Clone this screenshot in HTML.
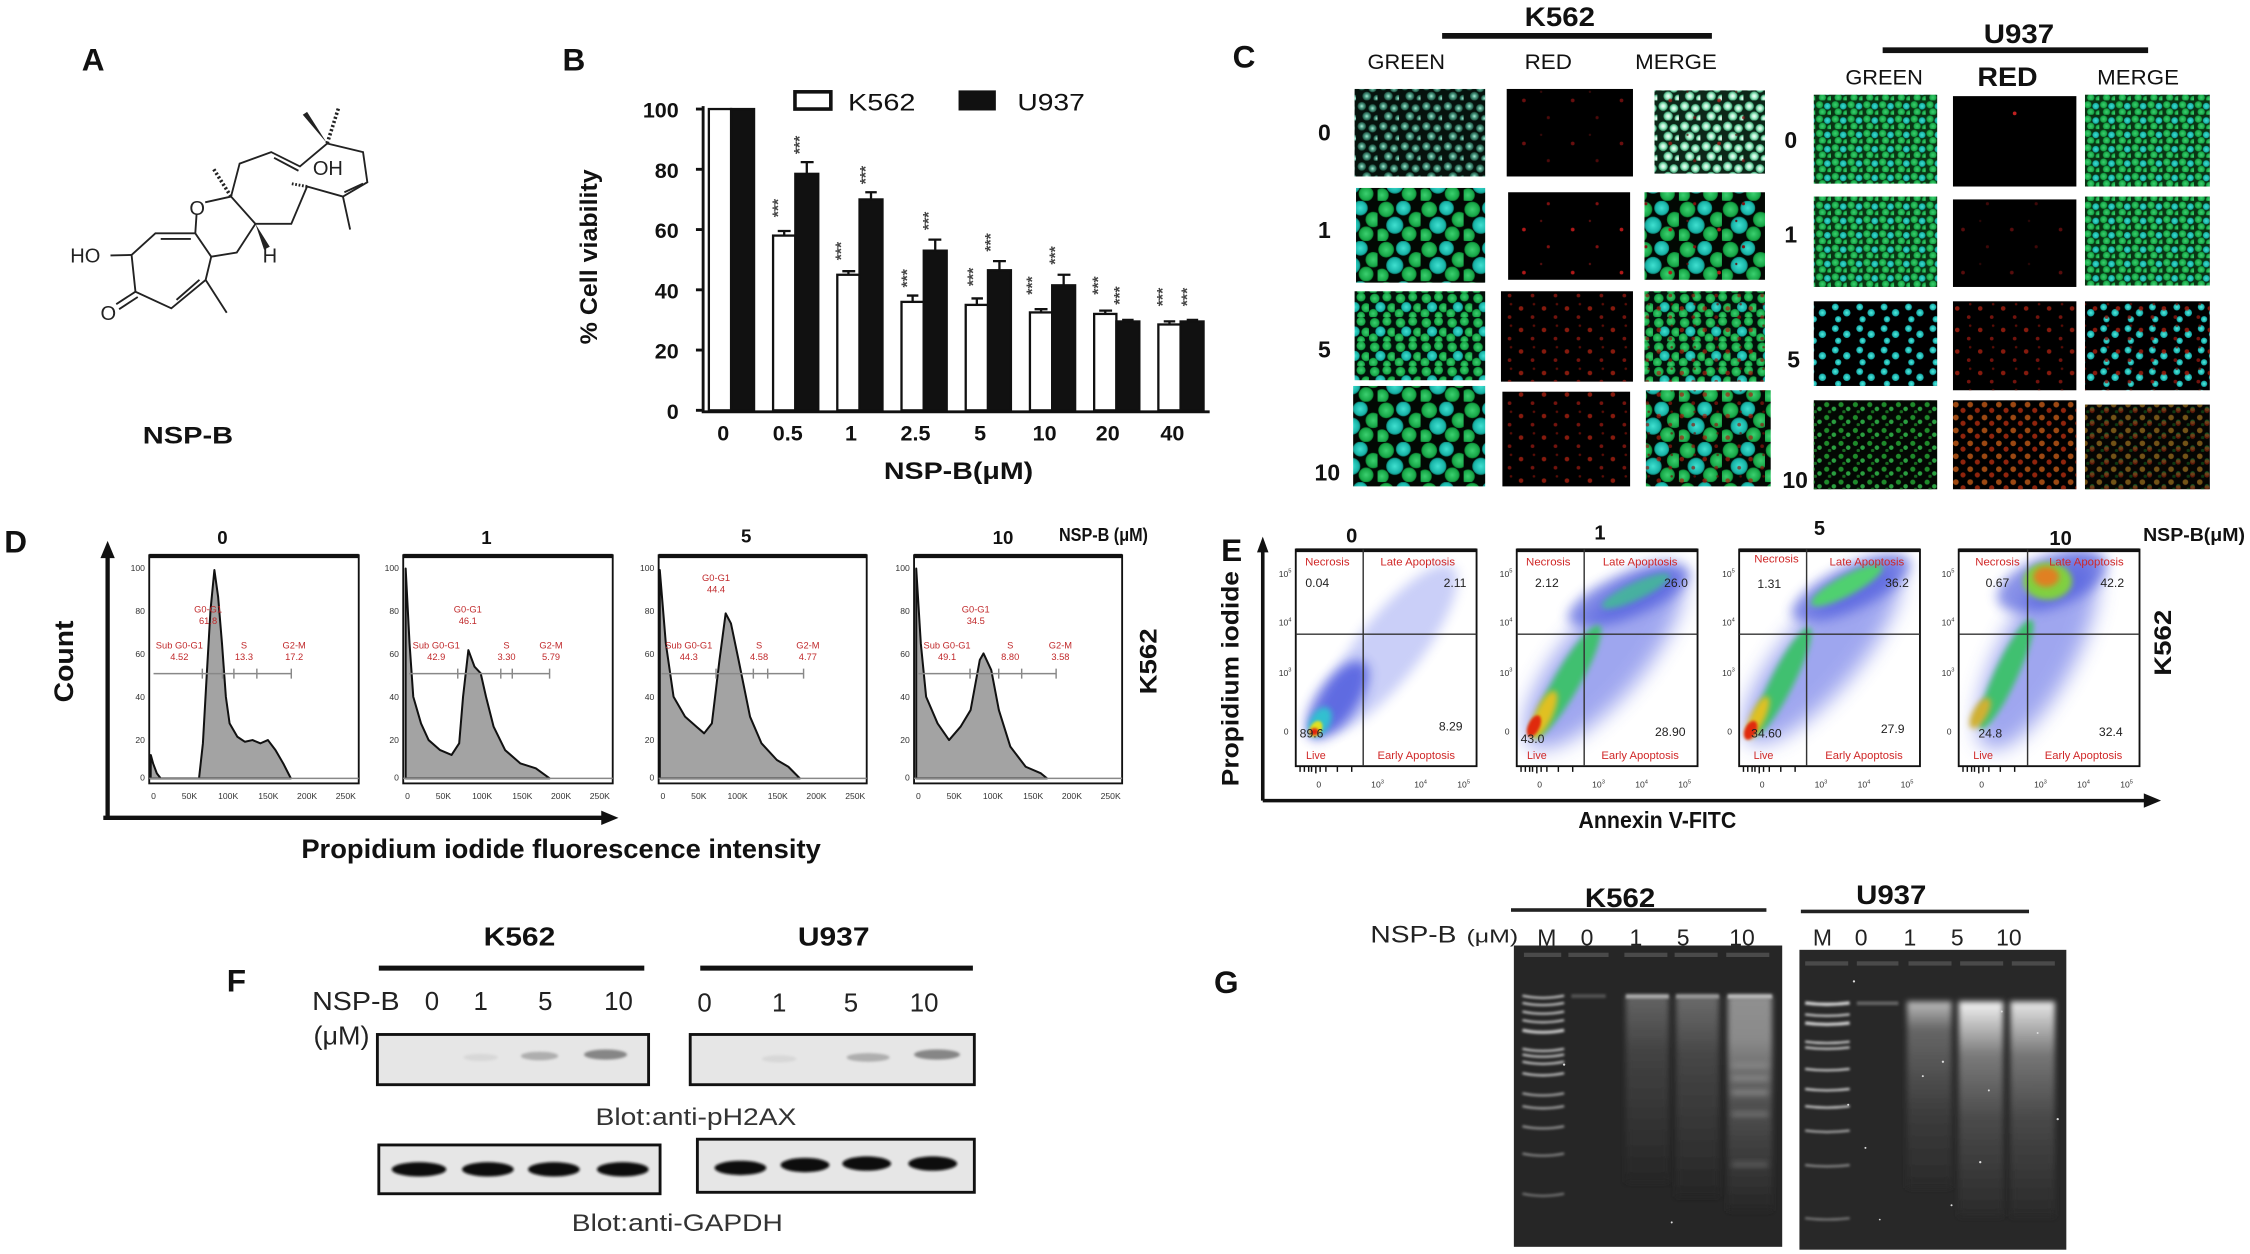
<!DOCTYPE html>
<html><head><meta charset="utf-8">
<style>
html,body{margin:0;padding:0;background:#fff}
svg{display:block}
text{font-family:"Liberation Sans",Arial,sans-serif}
</style></head>
<body>
<svg width="2250" height="1254" viewBox="0 0 1568 874" preserveAspectRatio="none" xmlns="http://www.w3.org/2000/svg">
<defs>
<radialGradient id="gTeal"><stop offset="0" stop-color="#b0eed8"/><stop offset=".45" stop-color="#50a088"/><stop offset="1" stop-color="#184a3a"/></radialGradient>
<radialGradient id="gWG"><stop offset="0" stop-color="#ffffff"/><stop offset=".5" stop-color="#a8f0cc"/><stop offset="1" stop-color="#309868"/></radialGradient>
<radialGradient id="gGreen"><stop offset="0" stop-color="#3cd070"/><stop offset=".8" stop-color="#18a848"/><stop offset="1" stop-color="#0c7a30"/></radialGradient>
<radialGradient id="gCyan"><stop offset="0" stop-color="#40e0d0"/><stop offset=".8" stop-color="#18b4a8"/><stop offset="1" stop-color="#0c8070"/></radialGradient>
<radialGradient id="gCy2"><stop offset="0" stop-color="#50f0e0"/><stop offset="1" stop-color="#10a0a0"/></radialGradient>
<filter id="b1" x="-50%" y="-50%" width="200%" height="200%"><feGaussianBlur stdDeviation="1"/></filter>
<filter id="b2" x="-50%" y="-50%" width="200%" height="200%"><feGaussianBlur stdDeviation="2"/></filter>
<filter id="b4" x="-50%" y="-50%" width="200%" height="200%"><feGaussianBlur stdDeviation="4"/></filter>
<filter id="b7" x="-50%" y="-50%" width="200%" height="200%"><feGaussianBlur stdDeviation="7"/></filter>

<pattern id="pK0G" width="15" height="14" patternUnits="userSpaceOnUse">
<rect width="15" height="14" fill="#06120d"/>
<circle cx="4" cy="4" r="3" fill="url(#gTeal)"/><circle cx="11.5" cy="5.5" r="2.9" fill="url(#gTeal)"/>
<circle cx="7.5" cy="11" r="3.1" fill="url(#gTeal)"/><circle cx="14.5" cy="12.5" r="2.4" fill="url(#gTeal)"/>
</pattern>
<pattern id="pK0M" width="15" height="14" patternUnits="userSpaceOnUse">
<rect width="15" height="14" fill="#0c2618"/>
<circle cx="4" cy="4" r="3.3" fill="url(#gWG)"/><circle cx="11.5" cy="5.5" r="3.1" fill="url(#gWG)"/>
<circle cx="7.5" cy="11" r="3.3" fill="url(#gWG)"/><circle cx="14.5" cy="12.5" r="2.6" fill="url(#gWG)"/>
</pattern>
<pattern id="pKbig" width="30" height="28" patternUnits="userSpaceOnUse">
<rect width="30" height="28" fill="#020803"/>
<circle cx="6" cy="6" r="5.5" fill="url(#gGreen)"/><circle cx="18" cy="5" r="5.2" fill="url(#gCyan)"/>
<circle cx="27" cy="13" r="5.4" fill="url(#gGreen)"/><circle cx="12" cy="17" r="6" fill="url(#gCyan)"/>
<circle cx="22" cy="23" r="5.2" fill="url(#gGreen)"/><circle cx="3" cy="24" r="4.8" fill="url(#gGreen)"/>
</pattern>
<pattern id="pKmed" width="18" height="17" patternUnits="userSpaceOnUse">
<rect width="18" height="17" fill="#02100a"/>
<circle cx="4" cy="4" r="3.4" fill="url(#gGreen)"/><circle cx="12.5" cy="3" r="3.2" fill="url(#gGreen)"/>
<circle cx="8" cy="10" r="3.6" fill="url(#gCyan)"/><circle cx="16" cy="10.5" r="3.3" fill="url(#gGreen)"/>
<circle cx="3" cy="14.5" r="3.2" fill="url(#gGreen)"/><circle cx="12.5" cy="16" r="2.8" fill="url(#gGreen)"/>
</pattern>
<pattern id="pUg" width="11" height="10" patternUnits="userSpaceOnUse">
<rect width="11" height="10" fill="#0a3414"/>
<circle cx="3" cy="3" r="2.6" fill="url(#gGreen)"/><circle cx="8.5" cy="4" r="2.4" fill="url(#gCyan)"/>
<circle cx="5" cy="8" r="2.6" fill="url(#gGreen)"/><circle cx="10.5" cy="9" r="2.2" fill="url(#gGreen)"/>
</pattern>
<pattern id="pUc" width="17" height="15" patternUnits="userSpaceOnUse">
<rect width="17" height="15" fill="#000"/>
<circle cx="4" cy="4" r="2.4" fill="url(#gCy2)"/><circle cx="12" cy="8" r="2.6" fill="url(#gCy2)"/>
<circle cx="6" cy="12.5" r="2.2" fill="url(#gCy2)"/>
</pattern>
<pattern id="pUg10" width="10" height="9" patternUnits="userSpaceOnUse">
<circle cx="3" cy="3" r="1.8" fill="#1e8a2a"/><circle cx="8" cy="6" r="1.6" fill="#2aa040"/>
<circle cx="5" cy="8" r="1.2" fill="#176a20"/>
</pattern>
<pattern id="pRs" width="34" height="30" patternUnits="userSpaceOnUse">
<circle cx="8" cy="10" r="1.3" fill="#b01818"/><circle cx="25" cy="22" r="1.1" fill="#801010"/>
<circle cx="20" cy="4" r="0.8" fill="#601010"/>
</pattern>
<pattern id="pRm" width="16" height="15" patternUnits="userSpaceOnUse">
<circle cx="4" cy="5" r="1.6" fill="#a82010"/><circle cx="12" cy="11" r="1.3" fill="#901810"/>
<circle cx="13" cy="2" r="0.9" fill="#701008"/>
</pattern>
<pattern id="pRo" width="10" height="9" patternUnits="userSpaceOnUse">
<circle cx="3" cy="3" r="2" fill="#d06018"/><circle cx="8" cy="7" r="1.8" fill="#c03010"/>
</pattern>
<linearGradient id="sm1" x1="0" y1="0" x2="0" y2="1"><stop offset="0" stop-color="#707070"/><stop offset=".3" stop-color="#484848"/><stop offset="1" stop-color="#262626"/></linearGradient>
<linearGradient id="sm10" x1="0" y1="0" x2="0" y2="1"><stop offset="0" stop-color="#909090"/><stop offset=".2" stop-color="#8a8a8a"/><stop offset=".5" stop-color="#505050"/><stop offset="1" stop-color="#262626"/></linearGradient>
<linearGradient id="sm2" x1="0" y1="0" x2="0" y2="1"><stop offset="0" stop-color="#f4f4f4"/><stop offset=".07" stop-color="#d0d0d0"/><stop offset=".25" stop-color="#7a7a7a"/><stop offset=".55" stop-color="#4a4a4a"/><stop offset="1" stop-color="#2a2a2a"/></linearGradient>
<linearGradient id="sm3" x1="0" y1="0" x2="0" y2="1"><stop offset="0" stop-color="#bbbbbb"/><stop offset=".15" stop-color="#666"/><stop offset=".6" stop-color="#3c3c3c"/><stop offset="1" stop-color="#2a2a2a"/></linearGradient>
<clipPath id="cE1"><rect x="903" y="383" width="126" height="151"/></clipPath>
<clipPath id="cE2"><rect x="1057" y="383" width="126" height="151"/></clipPath>
<clipPath id="cE3"><rect x="1212" y="383" width="126" height="151"/></clipPath>
<clipPath id="cE4"><rect x="1365" y="383" width="126" height="151"/></clipPath>
<clipPath id="cG1"><rect x="1055" y="659" width="187" height="210"/></clipPath>
<clipPath id="cG2"><rect x="1254" y="662" width="186" height="209"/></clipPath>
</defs>

<!-- Panel letters -->
<g font-weight="bold" font-size="22" fill="#111">
<text x="57" y="49">A</text><text x="392" y="49">B</text><text x="859" y="47">C</text>
<text x="3" y="385">D</text><text x="851" y="391">E</text><text x="158" y="691">F</text><text x="846" y="692">G</text>
</g>

<!-- Panel A structure -->
<g stroke="#222" stroke-width="1.3" fill="none">
<path d="M91.7,177.7 L108.3,162.6 L136.1,162.6 L147.2,178.9 L143.3,195.1 L119.4,214.9 L94.4,203.3 Z"/>
<path d="M112,166.5 L133,166.5 M123,209 L139,195"/>
<path d="M94.4,203.3 L81,212 M96,207 L83,215.5"/>
<path d="M91.7,177.7 L77,178"/>
<path d="M143.3,195.1 L158,218"/>
<path d="M136.1,162.6 L137,149 M143,141 L161,137 L178,156 M147.2,178.9 L165,176 L178,156"/>
<path d="M161,137 L167,114 L189,106 L209,116 L228,100 L253,106 L256,127 L239,137 L244,160 M239,137 L214,130 L203,156 L178,156"/>
<path d="M191,110 L208,119 M253,128 L240,134"/>
<path d="M161,137 L149,118" stroke-dasharray="1.5 1.5" stroke-width="2.5"/>
<path d="M228,100 L236,75" stroke-dasharray="1.5 1.5" stroke-width="2.5"/>
<path d="M214,130 L203,128" stroke-dasharray="1.2 1.2" stroke-width="2"/>
</g>
<polygon points="228,100 211,80 214,78" fill="#222"/>
<polygon points="178,156 184,174 188,172" fill="#222"/>
<g font-size="14" fill="#222">
<text x="49" y="183">HO</text><text x="70" y="223">O</text><text x="132" y="150">O</text>
<text x="183" y="183">H</text><text x="218" y="122">OH</text>
</g>
<text x="131" y="309" font-size="17" font-weight="bold" text-anchor="middle" fill="#111" textLength="63" lengthAdjust="spacingAndGlyphs">NSP-B</text>

<!-- Panel B bar chart -->
<g stroke="#111" stroke-width="2" fill="none">
<path d="M490,74 L490,287 L843,287"/>
<path d="M485,76 L490,76 M485,118 L490,118 M485,160 L490,160 M485,202 L490,202 M485,244 L490,244 M485,286 L490,286"/>
</g>
<g font-size="15" font-weight="bold" text-anchor="end" fill="#111">
<text x="473" y="82">100</text><text x="473" y="124">80</text><text x="473" y="166">60</text><text x="473" y="208">40</text><text x="473" y="250">20</text><text x="473" y="292">0</text>
</g>
<g stroke="#111" stroke-width="1.6">
<rect x="494" y="76" width="15.5" height="210" fill="#fff"/><rect x="509.5" y="76" width="16" height="210" fill="#111"/>
<rect x="538.75" y="164.2" width="15.5" height="121.8" fill="#fff"/><rect x="554.25" y="121.15" width="16" height="164.85" fill="#111"/>
<rect x="583.5" y="191.5" width="15.5" height="94.5" fill="#fff"/><rect x="599" y="139" width="16" height="147" fill="#111"/>
<rect x="628.25" y="210.4" width="15.5" height="75.6" fill="#fff"/><rect x="643.75" y="174.7" width="16" height="111.3" fill="#111"/>
<rect x="673" y="212.5" width="15.5" height="73.5" fill="#fff"/><rect x="688.5" y="188.35" width="16" height="97.65" fill="#111"/>
<rect x="717.75" y="217.75" width="15.5" height="68.25" fill="#fff"/><rect x="733.25" y="198.85" width="16" height="87.15" fill="#111"/>
<rect x="762.5" y="218.8" width="15.5" height="67.2" fill="#fff"/><rect x="778" y="224.05" width="16" height="61.95" fill="#111"/>
<rect x="807.25" y="226.15" width="15.5" height="59.85" fill="#fff"/><rect x="822.75" y="224.05" width="16" height="61.95" fill="#111"/>
</g>
<g stroke="#111" stroke-width="1.6">
<path d="M546.5,164 V161 M542,161 H551"/>
<path d="M562.25,121 V113 M558,113 H567"/>
<path d="M591.25,191 V189 M587,189 H596"/>
<path d="M607,139 V134 M603,134 H611"/>
<path d="M636,210 V206 M632,206 H640"/>
<path d="M651.75,174 V167 M647,167 H656"/>
<path d="M680.75,212 V208 M677,208 H685"/>
<path d="M696.5,188 V182 M692,182 H701"/>
<path d="M725.5,217.5 V215.5 M721,215.5 H730"/>
<path d="M741.25,198.8 V191.5 M737,191.5 H746"/>
<path d="M770.25,218.8 V216.5 M766,216.5 H775"/>
<path d="M786,224 V223 M782,223 H790"/>
<path d="M815,226 V224 M811,224 H819"/>
<path d="M830.75,224 V223 M827,223 H835"/>
</g>
<g font-size="11" fill="#444" text-anchor="middle" font-weight="bold">
<text transform="translate(546,145) rotate(-90)">***</text>
<text transform="translate(561,101) rotate(-90)">***</text>
<text transform="translate(590,175) rotate(-90)">***</text>
<text transform="translate(607,122) rotate(-90)">***</text>
<text transform="translate(636,194) rotate(-90)">***</text>
<text transform="translate(651,154) rotate(-90)">***</text>
<text transform="translate(682,193) rotate(-90)">***</text>
<text transform="translate(694,169) rotate(-90)">***</text>
<text transform="translate(723,199) rotate(-90)">***</text>
<text transform="translate(739,178) rotate(-90)">***</text>
<text transform="translate(769,199) rotate(-90)">***</text>
<text transform="translate(784,206) rotate(-90)">***</text>
<text transform="translate(814,207) rotate(-90)">***</text>
<text transform="translate(831,207) rotate(-90)">***</text>
</g>
<g font-size="15" font-weight="bold" text-anchor="middle" fill="#111">
<text x="504" y="307">0</text><text x="549" y="307">0.5</text><text x="593" y="307">1</text><text x="638" y="307">2.5</text>
<text x="683" y="307">5</text><text x="728" y="307">10</text><text x="772" y="307">20</text><text x="817" y="307">40</text>
</g>
<text x="668" y="334" font-size="17" font-weight="bold" text-anchor="middle" fill="#111" textLength="104" lengthAdjust="spacingAndGlyphs">NSP-B(μM)</text>
<text transform="translate(416,179) rotate(-90)" font-size="17" font-weight="bold" text-anchor="middle" fill="#111" textLength="122" lengthAdjust="spacingAndGlyphs">% Cell viability</text>
<rect x="554" y="64" width="25" height="12" fill="#fff" stroke="#111" stroke-width="2.5"/>
<text x="591" y="77" font-size="17" fill="#111" textLength="47" lengthAdjust="spacingAndGlyphs">K562</text>
<rect x="668" y="63" width="26" height="14" fill="#111"/>
<text x="709" y="77" font-size="17" fill="#111" textLength="47" lengthAdjust="spacingAndGlyphs">U937</text>

<!-- Panel C -->
<text x="1087" y="18" font-size="19" font-weight="bold" text-anchor="middle" fill="#111" textLength="49" lengthAdjust="spacingAndGlyphs">K562</text>
<rect x="1005" y="23" width="188" height="4" fill="#111"/>
<text x="1407" y="30" font-size="19" font-weight="bold" text-anchor="middle" fill="#111" textLength="49" lengthAdjust="spacingAndGlyphs">U937</text>
<rect x="1312" y="33" width="185" height="4" fill="#111"/>
<g font-size="15" fill="#111" text-anchor="middle">
<text x="980" y="48" textLength="54" lengthAdjust="spacingAndGlyphs">GREEN</text>
<text x="1079" y="48" textLength="33" lengthAdjust="spacingAndGlyphs">RED</text>
<text x="1168" y="48" textLength="57" lengthAdjust="spacingAndGlyphs">MERGE</text>
<text x="1313" y="59" textLength="54" lengthAdjust="spacingAndGlyphs">GREEN</text>
<text x="1399" y="60" font-size="19" font-weight="bold" textLength="42" lengthAdjust="spacingAndGlyphs">RED</text>
<text x="1490" y="59" textLength="57" lengthAdjust="spacingAndGlyphs">MERGE</text>
</g>
<g font-size="16" font-weight="bold" fill="#111" text-anchor="middle">
<text x="923" y="98">0</text><text x="923" y="166">1</text><text x="923" y="249">5</text><text x="925" y="335">10</text>
<text x="1248" y="103">0</text><text x="1248" y="169">1</text><text x="1250" y="256">5</text><text x="1251" y="340">10</text>
</g>
<!-- K562 images -->
<rect x="944" y="62" width="91" height="61" fill="url(#pK0G)"/>
<rect x="1050" y="62" width="88" height="61" fill="#000"/><rect x="1050" y="62" width="88" height="61" fill="url(#pRs)" opacity=".6"/>
<rect x="1153" y="63" width="77" height="58" fill="url(#pK0M)"/><rect x="1153" y="63" width="77" height="58" fill="url(#pRs)" opacity=".7"/>
<rect x="945" y="131" width="90" height="66" fill="url(#pKbig)"/>
<rect x="1051" y="134" width="85" height="61" fill="#000"/><rect x="1051" y="134" width="85" height="61" fill="url(#pRs)"/>
<rect x="1146" y="134" width="84" height="61" fill="url(#pKbig)"/><rect x="1146" y="134" width="84" height="61" fill="url(#pRs)"/>
<rect x="944" y="203" width="91" height="62" fill="url(#pKmed)"/>
<rect x="1046" y="203" width="92" height="63" fill="#000"/><rect x="1046" y="203" width="92" height="63" fill="url(#pRm)" opacity=".8"/>
<rect x="1146" y="203" width="84" height="63" fill="url(#pKmed)"/><rect x="1146" y="203" width="84" height="63" fill="url(#pRm)" opacity=".7"/>
<rect x="943" y="269" width="92" height="70" fill="url(#pKbig)"/>
<rect x="1047" y="273" width="89" height="66" fill="#000"/><rect x="1047" y="273" width="89" height="66" fill="url(#pRm)" opacity=".8"/>
<rect x="1147" y="272" width="87" height="67" fill="url(#pKbig)"/><rect x="1147" y="272" width="87" height="67" fill="url(#pRm)" opacity=".7"/>
<!-- U937 images -->
<rect x="1264" y="66" width="86" height="62" fill="url(#pUg)"/>
<rect x="1361" y="67" width="86" height="63" fill="#000"/><circle cx="1404" cy="79" r="1.3" fill="#c02020"/>
<rect x="1453" y="66" width="87" height="64" fill="url(#pUg)"/>
<rect x="1264" y="137" width="86" height="63" fill="url(#pUg)"/>
<rect x="1361" y="139" width="86" height="61" fill="#000"/><rect x="1361" y="139" width="86" height="61" fill="url(#pRs)" opacity=".5"/>
<rect x="1453" y="137" width="87" height="62" fill="url(#pUg)"/>
<rect x="1264" y="210" width="86" height="59" fill="url(#pUc)"/>
<rect x="1361" y="210" width="86" height="62" fill="#000"/><rect x="1361" y="210" width="86" height="62" fill="url(#pRm)" opacity=".8"/>
<rect x="1453" y="210" width="87" height="62" fill="url(#pUc)"/><rect x="1453" y="210" width="87" height="62" fill="url(#pRm)" opacity=".8"/>
<rect x="1264" y="279" width="86" height="62" fill="#030803"/><rect x="1264" y="279" width="86" height="62" fill="url(#pUg10)"/>
<rect x="1361" y="279" width="86" height="62" fill="#000"/><rect x="1361" y="279" width="86" height="62" fill="url(#pRo)" opacity=".75"/>
<rect x="1453" y="282" width="87" height="59" fill="#050503"/><rect x="1453" y="282" width="87" height="59" fill="url(#pUg10)" opacity=".5"/><rect x="1453" y="282" width="87" height="59" fill="url(#pRo)" opacity=".5"/>

<!-- Panel D -->
<g stroke="#111" stroke-width="3" fill="none"><path d="M75,570 V386 M72,570 H422"/></g>
<polygon points="75,377 70,389 80,389" fill="#111"/>
<polygon points="431,570 419,565 419,575" fill="#111"/>
<text transform="translate(51,461) rotate(-90)" font-size="19" font-weight="bold" text-anchor="middle" fill="#111" textLength="57" lengthAdjust="spacingAndGlyphs">Count</text>
<text x="391" y="598" font-size="19" font-weight="bold" text-anchor="middle" fill="#111" textLength="362" lengthAdjust="spacingAndGlyphs">Propidium iodide fluorescence intensity</text>
<text transform="translate(806,461) rotate(-90)" font-size="17" font-weight="bold" text-anchor="middle" fill="#111" textLength="46" lengthAdjust="spacingAndGlyphs">K562</text>
<g font-size="13" font-weight="bold" text-anchor="middle" fill="#111">
<text x="155" y="379">0</text><text x="339" y="379">1</text><text x="520" y="378">5</text><text x="699" y="379">10</text>
<text x="769" y="377" textLength="62" lengthAdjust="spacingAndGlyphs">NSP-B (μM)</text>
</g>
<g fill="none" stroke="#111" stroke-width="1.3">
<rect x="104" y="387" width="146" height="159"/><rect x="281" y="387" width="146" height="159"/>
<rect x="459" y="387" width="145" height="159"/><rect x="637" y="387" width="145" height="159"/>
</g>
<g stroke="#111" stroke-width="3"><path d="M104,387.5 H250 M281,387.5 H427 M459,387.5 H604 M637,387.5 H782"/></g>
<g fill="#a3a3a3" stroke="#111" stroke-width="1.4" stroke-linejoin="round">
<path d="M105.1,526.2 L106.7,532.1 L109.3,539 L112,542.5 L138.7,542.5 L141.4,518.1 L144,471.7 L146.7,425.2 L149.4,397.3 L152,415.9 L154.7,448.4 L157.4,485.6 L160,504.2 L165.4,513.5 L170.7,517 L176,515.8 L181.4,518.1 L186.7,515.8 L192,522.8 L197.4,532.1 L202.7,542.5 L105,542.5 Z"/>
<path d="M282.7,396.2 L285.4,448.4 L288,485.6 L293.4,504.2 L298.7,515.8 L306.7,522.8 L314.7,526.2 L320,518.1 L322.7,485.6 L326.4,453.1 L330.7,464.7 L335,469.3 L338.7,485.6 L344,506.5 L352,522.8 L362.7,532.1 L373.4,535.5 L383,542.5 L282.7,542.5 Z"/>
<path d="M459.8,397.3 L464,448.4 L469.4,485.6 L477.4,499.5 L485.4,506.5 L490.7,511.1 L496.1,504.2 L501.4,460 L505.7,427.5 L509.4,434.5 L514.7,460 L522.7,499.5 L530.7,518.1 L541.4,529.7 L549.4,534.4 L557.4,542.5 L459.8,542.5 Z"/>
<path d="M638.5,396.2 L641.7,448.4 L645.4,485.6 L653.4,504.2 L661.4,515.8 L669.4,506.5 L676.4,494.9 L682.8,460 L685.4,455.4 L690.8,467 L696.1,494.9 L704.1,520.4 L714.8,534.4 L725.4,539 L729.7,542.5 L638.5,542.5 Z"/>
</g>
<g stroke="#888" stroke-width="1" fill="none">
<path d="M104,542.5 H250 M281,542.5 H427 M459,542.5 H604 M637,542.5 H782"/>
<path d="M107,469.5 H203 M141,466 V473 M155,466 V473 M163,466 V473 M179,466 V473 M203,466 V473"/>
<path d="M285,469.5 H383 M319,466 V473 M349,466 V473 M357,466 V473 M383,466 V473"/>
<path d="M461,469.5 H560 M499,466 V473 M525,466 V473 M535,466 V473 M560,466 V473"/>
<path d="M640,469.5 H736 M676,466 V473 M696,466 V473 M712,466 V473 M736,466 V473"/>
</g>
<g font-size="6" fill="#333" text-anchor="end">
<text x="101" y="398">100</text><text x="101" y="428">80</text><text x="101" y="458">60</text><text x="101" y="488">40</text><text x="101" y="518">20</text><text x="101" y="544">0</text>
<text x="278" y="398">100</text><text x="278" y="428">80</text><text x="278" y="458">60</text><text x="278" y="488">40</text><text x="278" y="518">20</text><text x="278" y="544">0</text>
<text x="456" y="398">100</text><text x="456" y="428">80</text><text x="456" y="458">60</text><text x="456" y="488">40</text><text x="456" y="518">20</text><text x="456" y="544">0</text>
<text x="634" y="398">100</text><text x="634" y="428">80</text><text x="634" y="458">60</text><text x="634" y="488">40</text><text x="634" y="518">20</text><text x="634" y="544">0</text>
</g>
<g font-size="6" fill="#333" text-anchor="middle">
<text x="107" y="557">0</text><text x="132" y="557">50K</text><text x="159" y="557">100K</text><text x="187" y="557">150K</text><text x="214" y="557">200K</text><text x="241" y="557">250K</text>
<text x="284" y="557">0</text><text x="309" y="557">50K</text><text x="336" y="557">100K</text><text x="364" y="557">150K</text><text x="391" y="557">200K</text><text x="418" y="557">250K</text>
<text x="462" y="557">0</text><text x="487" y="557">50K</text><text x="514" y="557">100K</text><text x="542" y="557">150K</text><text x="569" y="557">200K</text><text x="596" y="557">250K</text>
<text x="640" y="557">0</text><text x="665" y="557">50K</text><text x="692" y="557">100K</text><text x="720" y="557">150K</text><text x="747" y="557">200K</text><text x="774" y="557">250K</text>
</g>
<g font-size="6.5" fill="#c0282a" text-anchor="middle">
<text x="145" y="427">G0-G1</text><text x="145" y="435">61.8</text>
<text x="125" y="452">Sub G0-G1</text><text x="125" y="460">4.52</text>
<text x="170" y="452">S</text><text x="170" y="460">13.3</text>
<text x="205" y="452">G2-M</text><text x="205" y="460">17.2</text>
<text x="326" y="427">G0-G1</text><text x="326" y="435">46.1</text>
<text x="304" y="452">Sub G0-G1</text><text x="304" y="460">42.9</text>
<text x="353" y="452">S</text><text x="353" y="460">3.30</text>
<text x="384" y="452">G2-M</text><text x="384" y="460">5.79</text>
<text x="499" y="405">G0-G1</text><text x="499" y="413">44.4</text>
<text x="480" y="452">Sub G0-G1</text><text x="480" y="460">44.3</text>
<text x="529" y="452">S</text><text x="529" y="460">4.58</text>
<text x="563" y="452">G2-M</text><text x="563" y="460">4.77</text>
<text x="680" y="427">G0-G1</text><text x="680" y="435">34.5</text>
<text x="660" y="452">Sub G0-G1</text><text x="660" y="460">49.1</text>
<text x="704" y="452">S</text><text x="704" y="460">8.80</text>
<text x="739" y="452">G2-M</text><text x="739" y="460">3.58</text>
</g>

<!-- Panel E -->
<g stroke="#111" stroke-width="2.5" fill="none"><path d="M880,558 V383 M880,558 H1496"/></g>
<polygon points="880,374 876,385 884,385" fill="#111"/>
<polygon points="1506,558 1494,553 1494,563" fill="#111"/>
<text transform="translate(863,473) rotate(-90)" font-size="17" font-weight="bold" text-anchor="middle" fill="#111" textLength="150" lengthAdjust="spacingAndGlyphs">Propidium iodide</text>
<text x="1155" y="577" font-size="16" font-weight="bold" text-anchor="middle" fill="#111" textLength="110" lengthAdjust="spacingAndGlyphs">Annexin V-FITC</text>
<text transform="translate(1513,448) rotate(-90)" font-size="17" font-weight="bold" text-anchor="middle" fill="#111" textLength="46" lengthAdjust="spacingAndGlyphs">K562</text>
<g font-size="14" font-weight="bold" text-anchor="middle" fill="#111">
<text x="942" y="378">0</text><text x="1115" y="376">1</text><text x="1268" y="373">5</text><text x="1436" y="380">10</text>
<text x="1529" y="377" font-size="13" textLength="71" lengthAdjust="spacingAndGlyphs">NSP-B(μM)</text>
</g>
<!-- scatter 1 -->
<g clip-path="url(#cE1)">
<ellipse cx="968" cy="452" rx="72" ry="22" transform="rotate(-52 968 452)" fill="#5060e8" opacity=".3" filter="url(#b4)"/>
<ellipse cx="932" cy="488" rx="32" ry="14" transform="rotate(-55 932 488)" fill="#3040d8" opacity=".7" filter="url(#b4)"/>
<ellipse cx="920" cy="503" rx="11" ry="7" transform="rotate(-60 920 503)" fill="#30c0d0" filter="url(#b2)"/>
<ellipse cx="917" cy="508" rx="6" ry="4" transform="rotate(-60 917 508)" fill="#e0e020" filter="url(#b1)"/>
<ellipse cx="916" cy="510" rx="3" ry="2.5" fill="#e02010" filter="url(#b1)"/>
</g>
<!-- scatter 2 -->
<g clip-path="url(#cE2)">
<ellipse cx="1118" cy="458" rx="80" ry="28" transform="rotate(-50 1118 458)" fill="#4050e0" opacity=".5" filter="url(#b7)"/>
<ellipse cx="1135" cy="415" rx="45" ry="15" transform="rotate(-22 1135 415)" fill="#3a48d8" opacity=".6" filter="url(#b4)"/>
<ellipse cx="1092" cy="475" rx="45" ry="9" transform="rotate(-60 1092 475)" fill="#40c070" filter="url(#b2)"/>
<ellipse cx="1140" cy="412" rx="26" ry="6" transform="rotate(-25 1140 412)" fill="#40c090" opacity=".8" filter="url(#b2)"/>
<ellipse cx="1076" cy="498" rx="18" ry="6" transform="rotate(-65 1076 498)" fill="#e0c020" filter="url(#b2)"/>
<ellipse cx="1069" cy="506" rx="8" ry="4" transform="rotate(-65 1069 506)" fill="#e02a10" filter="url(#b1)"/>
</g>
<!-- scatter 3 -->
<g clip-path="url(#cE3)">
<ellipse cx="1270" cy="455" rx="80" ry="26" transform="rotate(-50 1270 455)" fill="#4050e0" opacity=".5" filter="url(#b7)"/>
<ellipse cx="1290" cy="410" rx="45" ry="15" transform="rotate(-25 1290 410)" fill="#3a48d8" opacity=".6" filter="url(#b4)"/>
<ellipse cx="1242" cy="475" rx="42" ry="8" transform="rotate(-63 1242 475)" fill="#40c070" filter="url(#b2)"/>
<ellipse cx="1287" cy="408" rx="28" ry="7" transform="rotate(-28 1287 408)" fill="#50d070" filter="url(#b2)"/>
<ellipse cx="1225" cy="500" rx="16" ry="5" transform="rotate(-65 1225 500)" fill="#e0c020" filter="url(#b2)"/>
<ellipse cx="1220" cy="509" rx="7" ry="4" transform="rotate(-65 1220 509)" fill="#e02a10" filter="url(#b1)"/>
</g>
<!-- scatter 4 -->
<g clip-path="url(#cE4)">
<ellipse cx="1420" cy="455" rx="75" ry="26" transform="rotate(-62 1420 455)" fill="#4050e0" opacity=".5" filter="url(#b7)"/>
<ellipse cx="1430" cy="405" rx="40" ry="18" transform="rotate(-20 1430 405)" fill="#3a48d8" opacity=".6" filter="url(#b4)"/>
<ellipse cx="1398" cy="470" rx="42" ry="8" transform="rotate(-65 1398 470)" fill="#40c070" filter="url(#b2)"/>
<ellipse cx="1427" cy="405" rx="17" ry="13" fill="#80d040" filter="url(#b2)"/>
<ellipse cx="1426" cy="402" rx="9" ry="7" fill="#e08020" filter="url(#b2)"/>
<ellipse cx="1380" cy="497" rx="12" ry="5" transform="rotate(-60 1380 497)" fill="#d0b030" filter="url(#b2)"/>
</g>
<g fill="none" stroke="#111" stroke-width="1.3">
<rect x="903" y="383" width="126" height="151"/><rect x="1057" y="383" width="126" height="151"/>
<rect x="1212" y="383" width="126" height="151"/><rect x="1365" y="383" width="126" height="151"/>
</g>
<g stroke="#111" stroke-width="2.6"><path d="M903,383.5 H1029 M1057,383.5 H1183 M1212,383.5 H1338 M1365,383.5 H1491"/></g>
<g stroke="#333" stroke-width="1"><path d="M950,383 V534 M903,442 H1029 M1104,383 V534 M1057,442 H1183 M1259,383 V534 M1212,442 H1338 M1413,383 V534 M1365,442 H1491"/></g>
<g stroke="#111" stroke-width="1"><path d="M906,534 V538 M909,534 V538 M912,534 V538 M914,534 V538 M917,534 V539 M920,534 V538 M924,534 V538 M932,534 V538 M942,534 V538
 M1060,534 V538 M1063,534 V538 M1066,534 V538 M1068,534 V538 M1071,534 V539 M1074,534 V538 M1078,534 V538 M1086,534 V538 M1096,534 V538
 M1215,534 V538 M1218,534 V538 M1221,534 V538 M1223,534 V538 M1226,534 V539 M1229,534 V538 M1233,534 V538 M1241,534 V538 M1251,534 V538
 M1368,534 V538 M1371,534 V538 M1374,534 V538 M1376,534 V538 M1379,534 V539 M1382,534 V538 M1386,534 V538 M1394,534 V538 M1404,534 V538"/></g>
<g font-size="6" fill="#333" text-anchor="middle">
<text x="919" y="549">0</text><text x="960" y="549">10<tspan font-size="4" dy="-3">3</tspan></text><text x="990" y="549">10<tspan font-size="4" dy="-3">4</tspan></text><text x="1020" y="549">10<tspan font-size="4" dy="-3">5</tspan></text>
<text x="1073" y="549">0</text><text x="1114" y="549">10<tspan font-size="4" dy="-3">3</tspan></text><text x="1144" y="549">10<tspan font-size="4" dy="-3">4</tspan></text><text x="1174" y="549">10<tspan font-size="4" dy="-3">5</tspan></text>
<text x="1228" y="549">0</text><text x="1269" y="549">10<tspan font-size="4" dy="-3">3</tspan></text><text x="1299" y="549">10<tspan font-size="4" dy="-3">4</tspan></text><text x="1329" y="549">10<tspan font-size="4" dy="-3">5</tspan></text>
<text x="1381" y="549">0</text><text x="1422" y="549">10<tspan font-size="4" dy="-3">3</tspan></text><text x="1452" y="549">10<tspan font-size="4" dy="-3">4</tspan></text><text x="1482" y="549">10<tspan font-size="4" dy="-3">5</tspan></text>
</g>
<g font-size="6" fill="#333" text-anchor="end">
<text x="900" y="402">10<tspan font-size="4" dy="-3">5</tspan></text><text x="900" y="436">10<tspan font-size="4" dy="-3">4</tspan></text><text x="900" y="471">10<tspan font-size="4" dy="-3">3</tspan></text><text x="898" y="512">0</text>
<text x="1054" y="402">10<tspan font-size="4" dy="-3">5</tspan></text><text x="1054" y="436">10<tspan font-size="4" dy="-3">4</tspan></text><text x="1054" y="471">10<tspan font-size="4" dy="-3">3</tspan></text><text x="1052" y="512">0</text>
<text x="1209" y="402">10<tspan font-size="4" dy="-3">5</tspan></text><text x="1209" y="436">10<tspan font-size="4" dy="-3">4</tspan></text><text x="1209" y="471">10<tspan font-size="4" dy="-3">3</tspan></text><text x="1207" y="512">0</text>
<text x="1362" y="402">10<tspan font-size="4" dy="-3">5</tspan></text><text x="1362" y="436">10<tspan font-size="4" dy="-3">4</tspan></text><text x="1362" y="471">10<tspan font-size="4" dy="-3">3</tspan></text><text x="1360" y="512">0</text>
</g>
<g font-size="7.5" fill="#d02828" text-anchor="middle">
<text x="925" y="394" textLength="31" lengthAdjust="spacingAndGlyphs">Necrosis</text><text x="988" y="394" textLength="52" lengthAdjust="spacingAndGlyphs">Late Apoptosis</text>
<text x="917" y="529">Live</text><text x="987" y="529" textLength="54" lengthAdjust="spacingAndGlyphs">Early Apoptosis</text>
<text x="1079" y="394" textLength="31" lengthAdjust="spacingAndGlyphs">Necrosis</text><text x="1143" y="394" textLength="52" lengthAdjust="spacingAndGlyphs">Late Apoptosis</text>
<text x="1071" y="529">Live</text><text x="1143" y="529" textLength="54" lengthAdjust="spacingAndGlyphs">Early Apoptosis</text>
<text x="1238" y="392" textLength="31" lengthAdjust="spacingAndGlyphs">Necrosis</text><text x="1301" y="394" textLength="52" lengthAdjust="spacingAndGlyphs">Late Apoptosis</text>
<text x="1229" y="529">Live</text><text x="1299" y="529" textLength="54" lengthAdjust="spacingAndGlyphs">Early Apoptosis</text>
<text x="1392" y="394" textLength="31" lengthAdjust="spacingAndGlyphs">Necrosis</text><text x="1454" y="394" textLength="52" lengthAdjust="spacingAndGlyphs">Late Apoptosis</text>
<text x="1382" y="529">Live</text><text x="1452" y="529" textLength="54" lengthAdjust="spacingAndGlyphs">Early Apoptosis</text>
</g>
<g font-size="8.5" fill="#222" text-anchor="middle">
<text x="918" y="409">0.04</text><text x="1014" y="409">2.11</text><text x="914" y="514">89.6</text><text x="1011" y="509">8.29</text>
<text x="1078" y="409">2.12</text><text x="1168" y="409">26.0</text><text x="1068" y="518">43.0</text><text x="1164" y="513">28.90</text>
<text x="1233" y="410">1.31</text><text x="1322" y="409">36.2</text><text x="1231" y="514">34.60</text><text x="1319" y="511">27.9</text>
<text x="1392" y="409">0.67</text><text x="1472" y="409">42.2</text><text x="1387" y="514">24.8</text><text x="1471" y="513">32.4</text>
</g>

<!-- Panel F -->
<g font-size="18" font-weight="bold" text-anchor="middle" fill="#111">
<text x="362" y="659" textLength="50" lengthAdjust="spacingAndGlyphs">K562</text>
<text x="581" y="659" textLength="50" lengthAdjust="spacingAndGlyphs">U937</text>
</g>
<rect x="264" y="673" width="185" height="3.5" fill="#111"/><rect x="488" y="673" width="190" height="3.5" fill="#111"/>
<g font-size="18" fill="#222" text-anchor="middle">
<text x="248" y="704" textLength="61" lengthAdjust="spacingAndGlyphs">NSP-B</text>
<text x="238" y="728" textLength="39" lengthAdjust="spacingAndGlyphs">(μM)</text>
<text x="301" y="704">0</text><text x="335" y="704">1</text><text x="380" y="704">5</text><text x="431" y="704">10</text>
<text x="491" y="705">0</text><text x="543" y="705">1</text><text x="593" y="705">5</text><text x="644" y="705">10</text>
</g>
<rect x="263" y="721" width="189" height="35" fill="#e6e6e6" stroke="#111" stroke-width="2"/>
<rect x="481" y="721" width="198" height="35" fill="#e6e6e6" stroke="#111" stroke-width="2"/>
<g filter="url(#b1)">
<ellipse cx="335" cy="737" rx="12" ry="2.5" fill="#aaa" opacity=".25"/>
<ellipse cx="376" cy="736" rx="13" ry="3" fill="#888" opacity=".6"/>
<ellipse cx="422" cy="735" rx="15" ry="3.5" fill="#666" opacity=".75"/>
<ellipse cx="543" cy="738" rx="12" ry="2.5" fill="#aaa" opacity=".25"/>
<ellipse cx="605" cy="737" rx="15" ry="3" fill="#888" opacity=".6"/>
<ellipse cx="653" cy="735" rx="16" ry="3.5" fill="#666" opacity=".75"/>
</g>
<text x="485" y="784" font-size="17" fill="#333" text-anchor="middle" textLength="140" lengthAdjust="spacingAndGlyphs">Blot:anti-pH2AX</text>
<rect x="264" y="798" width="196" height="34" fill="#e6e6e6" stroke="#111" stroke-width="2"/>
<rect x="486" y="794" width="193" height="37" fill="#e6e6e6" stroke="#111" stroke-width="2"/>
<g fill="#111" filter="url(#b1)">
<ellipse cx="292" cy="815" rx="19" ry="5"/><ellipse cx="340" cy="815" rx="18" ry="5"/><ellipse cx="386" cy="815" rx="18" ry="5"/><ellipse cx="434" cy="815" rx="18" ry="5"/>
<ellipse cx="516" cy="814" rx="18" ry="5"/><ellipse cx="561" cy="812" rx="17" ry="5"/><ellipse cx="604" cy="811" rx="17" ry="5"/><ellipse cx="650" cy="811" rx="17" ry="5"/>
</g>
<text x="472" y="858" font-size="17" fill="#333" text-anchor="middle" textLength="147" lengthAdjust="spacingAndGlyphs">Blot:anti-GAPDH</text>

<!-- Panel G -->
<g font-size="19" font-weight="bold" text-anchor="middle" fill="#111">
<text x="1129" y="632" textLength="49" lengthAdjust="spacingAndGlyphs">K562</text>
<text x="1318" y="630" textLength="49" lengthAdjust="spacingAndGlyphs">U937</text>
</g>
<rect x="1053" y="633" width="178" height="2.5" fill="#222"/><rect x="1255" y="634" width="159" height="2.5" fill="#222"/>
<g fill="#222" text-anchor="middle">
<text x="985" y="657" font-size="17" textLength="60" lengthAdjust="spacingAndGlyphs">NSP-B</text>
<text x="1040" y="657" font-size="13" textLength="36" lengthAdjust="spacingAndGlyphs">(μM)</text>
<g font-size="16">
<text x="1078" y="659">M</text><text x="1106" y="659">0</text><text x="1140" y="659">1</text><text x="1173" y="659">5</text><text x="1214" y="659">10</text>
<text x="1270" y="659">M</text><text x="1297" y="659">0</text><text x="1331" y="659">1</text><text x="1364" y="659">5</text><text x="1400" y="659">10</text>
</g>
</g>
<rect x="1055" y="659" width="187" height="210" fill="#262626"/>
<rect x="1254" y="662" width="186" height="209" fill="#282828"/>
<g clip-path="url(#cG1)">
<g fill="#4a4a4a"><rect x="1062" y="664" width="26" height="3"/><rect x="1093" y="664" width="28" height="3"/><rect x="1132" y="664" width="30" height="3"/><rect x="1167" y="664" width="30" height="3"/><rect x="1203" y="664" width="30" height="3"/></g>
<g stroke="#c8c8c8" stroke-width="1.5" fill="none" filter="url(#b1)">
<path d="M1061,694 Q1075,697 1090,694"/><path d="M1061,699 Q1075,702 1090,699"/><path d="M1061,705 Q1075,708 1090,705"/>
<path d="M1061,711 Q1075,714 1090,711"/><path d="M1061,718 Q1075,721 1090,718" stroke-width="2.2"/><path d="M1061,731 Q1075,734 1090,731"/>
<path d="M1061,735 Q1075,738 1090,735"/><path d="M1061,740 Q1075,743 1090,740"/><path d="M1061,748 Q1075,751 1090,748"/>
<path d="M1061,762 Q1075,765 1090,762" opacity=".8"/><path d="M1061,771 Q1075,774 1090,771" opacity=".8"/><path d="M1061,785 Q1075,788 1090,785" opacity=".7"/>
<path d="M1061,804 Q1075,807 1090,804" opacity=".6"/><path d="M1061,832 Q1075,835 1090,832" opacity=".5"/>
</g>
<rect x="1095" y="693" width="24" height="2.5" fill="#555" filter="url(#b1)"/>
<rect x="1133" y="694" width="30" height="130" fill="url(#sm1)" opacity=".85" filter="url(#b2)"/>
<rect x="1133" y="693" width="30" height="3" fill="#aaa" filter="url(#b1)"/>
<rect x="1168" y="694" width="30" height="140" fill="url(#sm1)" opacity=".95" filter="url(#b2)"/>
<rect x="1168" y="693" width="30" height="3" fill="#999" filter="url(#b1)"/>
<rect x="1204" y="694" width="31" height="150" fill="url(#sm10)" filter="url(#b2)"/>
<rect x="1204" y="693" width="31" height="3" fill="#bbb" filter="url(#b1)"/>
<g fill="#8a8a8a" filter="url(#b2)">
<rect x="1207" y="741" width="25" height="3"/><rect x="1207" y="750" width="25" height="3"/><rect x="1207" y="760" width="25" height="3"/>
<rect x="1207" y="775" width="25" height="3" opacity=".7"/><rect x="1207" y="810" width="25" height="3" opacity=".5"/>
</g>
<g fill="#ddd"><circle cx="1090" cy="742" r=".8"/><circle cx="1165" cy="852" r=".7"/></g>
</g>
<g clip-path="url(#cG2)">
<g fill="#4a4a4a"><rect x="1258" y="670" width="30" height="3"/><rect x="1294" y="670" width="29" height="3"/><rect x="1330" y="670" width="30" height="3"/><rect x="1366" y="670" width="30" height="3"/><rect x="1402" y="670" width="30" height="3"/></g>
<g stroke="#d0d0d0" stroke-width="1.5" fill="none" filter="url(#b1)">
<path d="M1258,699 Q1273,701 1289,699" stroke-width="2.4"/><path d="M1258,707 Q1273,709 1289,707"/><path d="M1258,713 Q1273,715 1289,713" stroke-width="2.2"/>
<path d="M1258,726 Q1273,728 1289,726"/><path d="M1258,730 Q1273,732 1289,730"/><path d="M1258,745 Q1273,747 1289,745"/>
<path d="M1258,759 Q1273,761 1289,759"/><path d="M1258,771 Q1273,773 1289,771"/><path d="M1258,788 Q1273,790 1289,788" opacity=".8"/>
<path d="M1258,812 Q1273,814 1289,812" opacity=".6"/><path d="M1258,849 Q1273,851 1289,849" opacity=".5"/>
</g>
<rect x="1294" y="698" width="29" height="2.5" fill="#666" filter="url(#b1)"/>
<rect x="1329" y="698" width="31" height="130" fill="url(#sm3)" filter="url(#b2)"/>
<rect x="1365" y="698" width="31" height="150" fill="url(#sm2)" filter="url(#b2)"/>
<rect x="1401" y="698" width="31" height="150" fill="url(#sm2)" opacity=".95" filter="url(#b2)"/>
<g fill="#ddd"><circle cx="1292" cy="684" r=".8"/><circle cx="1340" cy="750" r=".7"/><circle cx="1380" cy="810" r=".8"/><circle cx="1420" cy="720" r=".7"/><circle cx="1300" cy="800" r=".7"/><circle cx="1434" cy="780" r=".8"/><circle cx="1360" cy="840" r=".7"/><circle cx="1310" cy="850" r=".6"/><circle cx="1395" cy="705" r=".7"/><circle cx="1354" cy="740" r=".8"/><circle cx="1386" cy="760" r=".7"/><circle cx="1288" cy="770" r=".7"/></g>
</g>
</svg>
</body></html>
